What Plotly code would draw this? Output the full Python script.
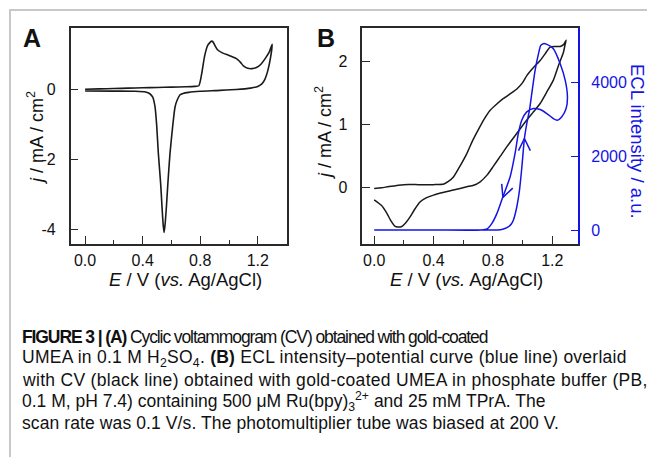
import math
import plotly.graph_objects as go

W, H = 647, 457

# ---------------- data ----------------
# Panel A: CV of gold-coated UMEA in 0.1 M H2SO4 (forward then reverse scan)
A_E = [0.00, 0.10, 0.20, 0.30, 0.40, 0.50, 0.60, 0.70, 0.76, 0.79, 0.81, 0.83, 0.85, 0.87, 0.88,
       0.89, 0.90, 0.92, 0.95, 1.00, 1.04, 1.06, 1.08, 1.10, 1.13, 1.16, 1.19, 1.22, 1.25, 1.28, 1.30,
       1.29, 1.27, 1.25, 1.23, 1.20, 1.15, 1.05, 0.90, 0.80, 0.72, 0.68, 0.66, 0.64, 0.625, 0.61,
       0.59, 0.575, 0.565, 0.555, 0.549, 0.543, 0.535, 0.525, 0.509, 0.497, 0.486, 0.47, 0.45,
       0.42, 0.35, 0.20, 0.00]
A_J = [0.01, 0.02, 0.03, 0.04, 0.05, 0.06, 0.07, 0.08, 0.09, 0.11, 0.45, 0.95, 1.25, 1.36, 1.39,
       1.36, 1.28, 1.14, 1.06, 0.98, 0.91, 0.86, 0.78, 0.68, 0.61, 0.60, 0.63, 0.72, 0.88, 1.08, 1.30,
       0.95, 0.55, 0.30, 0.17, 0.09, 0.04, 0.00, -0.03, -0.05, -0.08, -0.11, -0.15, -0.30, -0.50, -1.00,
       -1.83, -2.70, -3.36, -3.90, -4.10, -3.90, -3.40, -2.70, -1.83, -1.00, -0.50, -0.22, -0.12,
       -0.07, -0.05, -0.045, -0.04]

# Panel B: CV (black) in PB with Ru(bpy)3 2+ / TPrA
B_E = [0.00, 0.05, 0.10, 0.20, 0.30, 0.40, 0.47, 0.50, 0.534, 0.58, 0.624, 0.66, 0.70, 0.74, 0.78,
       0.83, 0.871, 0.92, 0.961, 1.00, 1.028, 1.07, 1.118, 1.15, 1.185, 1.22, 1.253, 1.275, 1.293,
       1.285, 1.275, 1.24, 1.207, 1.16, 1.118, 1.07, 1.028, 0.961, 0.894, 0.85, 0.80, 0.76, 0.714,
       0.67, 0.624, 0.534, 0.47, 0.40, 0.35, 0.31, 0.27, 0.242, 0.21, 0.186, 0.16, 0.141, 0.11,
       0.085, 0.05, 0.00]
B_J = [-0.01, 0.00, 0.02, 0.05, 0.05, 0.05, 0.06, 0.10, 0.17, 0.35, 0.54, 0.73, 0.91, 1.08, 1.22,
       1.33, 1.41, 1.49, 1.56, 1.66, 1.77, 1.89, 2.01, 2.11, 2.22, 2.23, 2.23, 2.26, 2.33,
       2.25, 2.14, 1.92, 1.70, 1.50, 1.33, 1.19, 1.07, 0.86, 0.65, 0.50, 0.33, 0.20, 0.095,
       0.04, 0.016, -0.036, -0.07, -0.115, -0.16, -0.22, -0.35, -0.46, -0.56, -0.61, -0.62, -0.61,
       -0.51, -0.40, -0.28, -0.19]

# Panel B: ECL intensity (blue), forward then reverse
ECL_E = [0.00, 0.40, 0.80, 0.85, 0.88, 0.905, 0.925, 0.938, 0.961, 0.979, 0.995, 1.012, 1.028,
         1.046, 1.065, 1.084, 1.107, 1.122, 1.14, 1.163, 1.207, 1.253, 1.287, 1.302, 1.293,
         1.263, 1.234, 1.207, 1.163, 1.118, 1.073, 1.028, 0.994, 0.971, 0.949, 0.916, 0.867,
         0.827, 0.793, 0.76, 0.72, 0.40, 0.00]
ECL_I = [0, 0, 0, 10, 40, 90, 170, 271, 631, 1082, 1713, 2481, 2887,
         3247, 3800, 4330, 4781, 5006, 5052, 5034, 4917, 4510, 4059, 3607, 3293,
         3066, 2977, 3022, 3158, 3266, 3293, 3202, 2977, 2616, 2075, 1443, 901,
         451, 180, 27, 0, 0, 0]

# scan-direction arrows on the ECL curve (apex points)
ARROW_E = [1.012, 0.867]
ARROW_I = [2481, 885]

X_TICKS = [0.0, 0.4, 0.8, 1.2]
X_TICKTEXT = ["0.0", "0.4", "0.8", "1.2"]
A_YTICKS = [-4, -2, 0]
A_YTICKTEXT = ["-4", "-2", "0"]
B_YTICKS = [0, 1, 2]
B_YTICKTEXT = ["0", "1", "2"]
ECL_TICKS = [0, 2000, 4000]
ECL_TICKTEXT = ["0", "2000", "4000"]

# ---------------- layout geometry ----------------
FONT = "Liberation Sans, Arial, Helvetica, sans-serif"
BLACK = "#1a1a1a"
BLUE = "#1414e6"
AX = "#2a2a2a"

def fx(p):
    return p / W

def fy(p):
    return 1 - p / H

A_XDOM = [fx(70.7), fx(287.3)]
B_XDOM = [fx(362.3), fx(578.3)]
YDOM = [fy(244.0), fy(27.5)]
A_XR = [-0.10, 1.405]
A_YR = [-4.43, 1.78]
B_XR = [-0.08, 1.375]
B_YR = [-0.887, 2.53]
ECL_R = [-379, 5490]

fig = go.Figure()
fig.add_trace(go.Scatter(x=A_E, y=A_J, mode="lines", xaxis="x", yaxis="y",
                         line=dict(color=BLACK, width=1.6, shape="spline", smoothing=0.6),
                         showlegend=False, hoverinfo="skip"))
fig.add_trace(go.Scatter(x=B_E, y=B_J, mode="lines", xaxis="x2", yaxis="y2",
                         line=dict(color=BLACK, width=1.5, shape="spline", smoothing=0.6),
                         showlegend=False, hoverinfo="skip"))
fig.add_trace(go.Scatter(x=ECL_E, y=ECL_I, mode="lines", xaxis="x2", yaxis="y3",
                         line=dict(color=BLUE, width=1.5, shape="spline", smoothing=0.6),
                         showlegend=False, hoverinfo="skip"))

# chevron arrows, built in pixel space and converted to data units
px_per_x = (B_XDOM[1] - B_XDOM[0]) * W / (B_XR[1] - B_XR[0])
px_per_i = (YDOM[1] - YDOM[0]) * H / (ECL_R[1] - ECL_R[0])
ARROW_DIR = [-90.0, 111.0]   # screen angle (deg) the arrow points to
for e, i, ang in zip(ARROW_E, ARROW_I, ARROW_DIR):
    back = math.radians(ang + 180)
    pts = []
    for s in (-1, 1):
        a = back + s * math.radians(26)
        dx, dy = 13.5 * math.cos(a), 13.5 * math.sin(a)
        pts.append((e + dx / px_per_x, i - dy / px_per_i))
    xs = [pts[0][0], e, pts[1][0]]
    ys = [pts[0][1], i, pts[1][1]]
    fig.add_trace(go.Scatter(x=xs, y=ys, mode="lines", xaxis="x2", yaxis="y3",
                             line=dict(color=BLUE, width=1.5), showlegend=False, hoverinfo="skip"))

tickfont = dict(family=FONT, size=16, color="#111")
common_x = dict(ticks="inside", ticklen=8, tickwidth=1.3, tickcolor=AX, showline=True,
                linecolor=AX, linewidth=1.5, mirror=True, showgrid=False, zeroline=False,
                tickvals=X_TICKS, ticktext=X_TICKTEXT, tickfont=tickfont,
                minor=dict(ticks="inside", ticklen=4, tickwidth=1.3, tickcolor=AX, dtick=0.2,
                           tick0=0, showgrid=False),
                ticklabelstandoff=1)
common_y = dict(ticks="inside", ticklen=8, tickwidth=1.3, tickcolor=AX, showline=True,
                linecolor=AX, linewidth=1.5, showgrid=False, zeroline=False, tickfont=tickfont,
                ticklabelstandoff=10)

fig.update_layout(
    width=W, height=H, margin=dict(l=0, r=0, t=0, b=0),
    paper_bgcolor="white", plot_bgcolor="white", showlegend=False,
    xaxis=dict(domain=A_XDOM, range=A_XR, anchor="y", **common_x),
    yaxis=dict(domain=YDOM, range=A_YR, anchor="x", mirror=True,
               tickvals=A_YTICKS, ticktext=A_YTICKTEXT, **common_y),
    xaxis2=dict(domain=B_XDOM, range=B_XR, anchor="y2", **common_x),
    yaxis2=dict(domain=YDOM, range=B_YR, anchor="x2", mirror=False,
                tickvals=B_YTICKS, ticktext=B_YTICKTEXT, **common_y),
    yaxis3=dict(domain=YDOM, range=ECL_R, anchor="x2", overlaying="y2", side="right",
                ticks="inside", ticklen=8, tickwidth=1.3, tickcolor=BLUE, showline=True,
                linecolor=BLUE, linewidth=1.5, showgrid=False, zeroline=False,
                tickvals=ECL_TICKS, ticktext=ECL_TICKTEXT,
                tickfont=dict(family=FONT, size=16, color=BLUE), ticklabelstandoff=8),
)

def ann(text, x, y, size=16, color="#111", angle=0, xanchor="center", yanchor="middle",
        bold=False):
    fig.add_annotation(text=text, x=fx(x), y=fy(y), xref="paper", yref="paper", showarrow=False,
                       textangle=angle, xanchor=xanchor, yanchor=yanchor,
                       font=dict(family=FONT, size=size, color=color,
                                 weight="bold" if bold else "normal"))

ann("A", 32, 38, size=25, bold=True)
ann("B", 325.5, 38, size=25, bold=True)
ann("<i>j</i> / mA / cm<sup>2</sup>", 35, 138, size=18, angle=-90)
ann("<i>j</i> / mA / cm<sup>2</sup>", 323, 133, size=18, angle=-90)
ann("<i>E</i> / V (<i>vs.</i> Ag/AgCl)", 185, 279, size=18.5)
ann("<i>E</i> / V (<i>vs.</i> Ag/AgCl)", 466, 279, size=18.5)
ann("ECL intensity / a.u.", 638, 141, size=18.5, color=BLUE, angle=90)

CAPTION = [
    "<b>FIGURE 3 | (A)</b> Cyclic voltammogram (CV) obtained with gold-coated",
    "UMEA in 0.1 M H<sub>2</sub>SO<sub>4</sub>. <b>(B)</b> ECL intensity\u2013potential curve (blue line) overlaid",
    "with CV (black line) obtained with gold-coated UMEA in phosphate buffer (PB,",
    "0.1 M, pH 7.4) containing 500 \u03bcM Ru(bpy)<sub>3</sub><sup>2+</sup> and 25 mM TPrA. The",
    "scan rate was 0.1 V/s. The photomultiplier tube was biased at 200 V.",
]
CAPTION_SPACING = ["-1.1px", "0.25px", "0.3px", "0px", "0.1px"]
for k, (line, sp) in enumerate(zip(CAPTION, CAPTION_SPACING)):
    ann('<span style="letter-spacing:%s">%s</span>' % (sp, line), 20, 337 + k * 21.6,
        size=17.5, xanchor="left")

# page frame lines (grey)
fig.add_shape(type="line", xref="paper", yref="paper", x0=fx(9), x1=1, y0=fy(10), y1=fy(10),
              line=dict(color="#c8c8c8", width=2))
fig.add_shape(type="line", xref="paper", yref="paper", x0=fx(10), x1=fx(10), y0=fy(9), y1=0,
              line=dict(color="#c8c8c8", width=2))

fig.write_html("out.html", config={"displayModeBar": False})

# remove the default page margin so the figure sits at the window's origin
with open("out.html", "r", encoding="utf-8") as f:
    html = f.read()
html = html.replace("<body>", '<body style="margin:0;padding:0;overflow:hidden">', 1)
with open("out.html", "w", encoding="utf-8") as f:
    f.write(html)
